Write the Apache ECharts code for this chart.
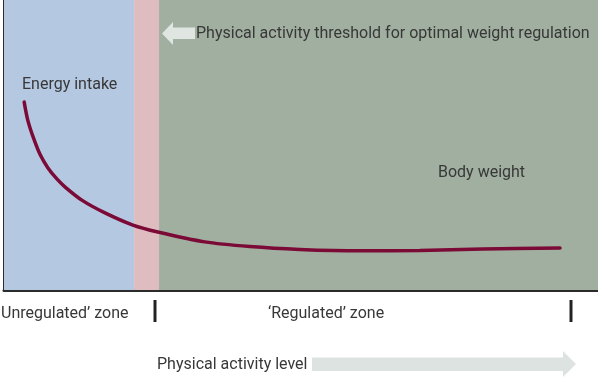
<!DOCTYPE html>
<html>
<head>
<meta charset="utf-8">
<script src="https://cdn.jsdelivr.net/npm/echarts@6/dist/echarts.min.js"></script>
<style>
html,body{margin:0;padding:0;background:#fff;}
#chart{width:598px;height:387px;}
</style>
</head>
<body>
<div id="chart"></div>
<script>
// Zones along the physical activity axis (0-100 scale)
const zoneNames = ['Unregulated', 'Threshold', 'Regulated'];
const zoneStart = [0, 21.9, 26.1];
const zoneEnd = [21.9, 26.1, 100];
const zoneColors = ['#b4c8e1', '#dfbcc0', '#a0af9f'];

// Energy intake curve
const activity = [3.4, 4.0, 4.9, 6.1, 7.4, 8.9, 10.3, 13.1, 17.0, 21.7, 25.9, 33.8, 41.4, 49.8, 59.9, 70.0, 80.6, 93.6];
const energyIntake = [64.8, 58.6, 52.8, 46.6, 42.1, 38.3, 35.5, 31.0, 26.6, 22.4, 20.0, 16.6, 15.0, 14.0, 13.5, 13.6, 14.1, 14.5];

// Text labels
const zoneLabels = ["Unregulated\u2019 zone", "\u2018Regulated\u2019 zone"];
const thresholdLabel = 'Physical activity threshold for optimal weight regulation';
const xAxisLabel = 'Physical activity level';
const curveLabels = ['Energy intake', 'Body weight'];

const FONT = 'Roboto';
const TXT = '#383838';

const chart = echarts.init(document.getElementById('chart'), null, {renderer: 'canvas'});

const areas = zoneNames.map((n, i) => [
  {xAxis: zoneStart[i], itemStyle: {color: zoneColors[i], opacity: 1}},
  {xAxis: zoneEnd[i]}
]);

const txt = (x, y, s) => ({
  type: 'text', left: x, top: y, z: 20,
  style: {text: s, fill: TXT, font: '16px ' + FONT}
});

chart.setOption({
  animation: false,
  grid: {left: 4, right: 0, top: 0, bottom: 97},
  xAxis: {
    type: 'value', min: 0, max: 100,
    axisLine: {show: true, lineStyle: {color: '#2b2b2b', width: 3}},
    axisTick: {show: false}, axisLabel: {show: false}, splitLine: {show: false}
  },
  yAxis: {
    type: 'value', min: 0, max: 100,
    axisLine: {show: true, lineStyle: {color: '#2b2b2b', width: 3}},
    axisTick: {show: false}, axisLabel: {show: false}, splitLine: {show: false}
  },
  series: [{
    type: 'line',
    data: activity.map((x, i) => [x, energyIntake[i]]),
    smooth: 0.3,
    showSymbol: false,
    lineStyle: {color: '#7b0a37', width: 3.5, cap: 'round'},
    markArea: {silent: true, data: areas},
    z: 5
  }],
  graphic: [
    // threshold arrow pointing left
    {type: 'polygon', shape: {points: [[162,33.5],[173,22],[173,27.5],[195,27.5],[195,39],[173,39],[173,45]]},
     style: {fill: '#dfe6e1'}, z: 10},
    txt(196, 26, thresholdLabel),
    txt(22, 77, curveLabels[0]),
    txt(438, 165, curveLabels[1]),
    // zone ticks
    {type: 'rect', shape: {x: 153.5, y: 300, width: 3, height: 22}, style: {fill: '#222'}},
    {type: 'rect', shape: {x: 569.5, y: 300, width: 3, height: 22}, style: {fill: '#222'}},
    txt(1, 306, zoneLabels[0]),
    txt(268, 306, zoneLabels[1]),
    txt(157, 357, xAxisLabel),
    // activity arrow pointing right
    {type: 'polygon', shape: {points: [[312,357.5],[563,357.5],[563,351],[576,364],[563,377],[563,371],[312,371]]},
     style: {fill: '#dde3e0'}, z: 10}
  ]
});
</script>
</body>
</html>
